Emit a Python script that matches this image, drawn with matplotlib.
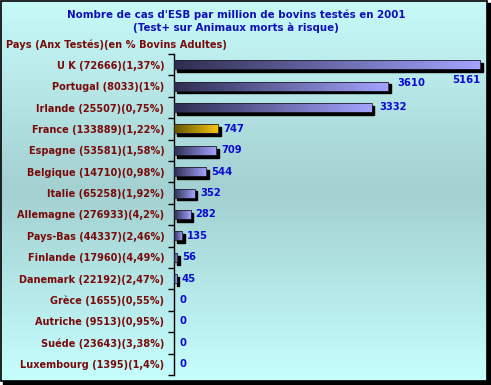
import numpy as np
import matplotlib
matplotlib.use("Agg")
import matplotlib.pyplot as plt
from matplotlib.patches import Rectangle
from matplotlib.transforms import ScaledTranslation

# data
pays = ["U K (72666)(1,37%)", "Portugal (8033)(1%)", "Irlande (25507)(0,75%)",
        "France (133889)(1,22%)", "Espagne (53581)(1,58%)", "Belgique (14710)(0,98%)",
        "Italie (65258)(1,92%)", "Allemagne (276933)(4,2%)", "Pays-Bas (44337)(2,46%)",
        "Finlande (17960)(4,49%)", "Danemark (22192)(2,47%)", "Grèce (1655)(0,55%)",
        "Autriche (9513)(0,95%)", "Suéde (23643)(3,38%)", "Luxembourg (1395)(1,4%)"]
cas = [5161, 3610, 3332, 747, 709, 544, 352, 282, 135, 56, 45, 0, 0, 0, 0]
highlight = "France (133889)(1,22%)"

title = "Nombre de cas d'ESB par million de bovins testés en 2001\n(Test+ sur Animaux morts à risque)"
ylabel = "Pays (Anx Testés)(en % Bovins Adultes)"

W, H = 491, 385
fig = plt.figure(figsize=(W / 100, H / 100), dpi=100)

# background panel with frame and drop shadow
bg = fig.add_axes([0, 0, 1, 1])
bg.set_xlim(0, W)
bg.set_ylim(H, 0)
bg.axis("off")
bg.add_patch(Rectangle((3, 3), W - 3, H - 3, color="black", zorder=0))
t = np.linspace(0, 1, 200)[:, None]
r = np.interp(t, [0, 0.5, 1], [200, 163, 198])
g = np.interp(t, [0, 0.5, 1], [250, 208, 254])
b = np.interp(t, [0, 0.5, 1], [250, 208, 254])
grad = np.dstack([r, g, b]) / 255.0
grad = np.repeat(grad, 2, axis=1)
bg.imshow(grad, extent=(0, W - 4, H - 4, 0), aspect="auto", zorder=1)
bg.add_patch(Rectangle((0.5, 0.5), W - 4.5, H - 4.5, fill=False, ec="black", lw=1.2, zorder=2))

fig.text(236 / W, 1 - 21 / H, title, ha="center", va="center", color="#1010b8",
         fontsize=7.4, fontweight="bold", linespacing=1.3)
fig.text(6 / W, 1 - 45 / H, ylabel, ha="left", va="center", color="#7a0a0a",
         fontsize=7.1, fontweight="bold")

ax = fig.add_axes([174 / W, 1 - 375 / H, 312 / W, 321 / H])
ax.patch.set_alpha(0)
ax.set_zorder(3)

n = len(pays)
y = np.arange(n)
h = 0.42
shadow = ax.transData + ScaledTranslation(0.025, -0.028, fig.dpi_scale_trans)
blue = np.dstack([np.linspace(0.18, 0.64, 64), np.linspace(0.18, 0.64, 64), np.linspace(0.32, 1.0, 64)])
gold = np.dstack([np.linspace(0.40, 0.96, 64), np.linspace(0.34, 0.78, 64), np.linspace(0.0, 0.05, 64)])

for i, (p, v) in enumerate(zip(pays, cas)):
    if v <= 0:
        continue
    ax.add_patch(Rectangle((0, i - h / 2), v, h, color="black", transform=shadow, zorder=2))
    img = gold if p == highlight else blue
    ax.imshow(img, extent=(0, v, i + h / 2, i - h / 2), aspect="auto", zorder=3,
              interpolation="bilinear")
    ax.add_patch(Rectangle((0, i - h / 2), v, h, fill=False, ec="#202030", lw=0.6, zorder=4))

# value labels
offsets = {0: (0, -15, "right"), 1: (9, 3, "left"), 2: (8, 1, "left")}
for i, v in enumerate(cas):
    dx, dy, ha = offsets.get(i, (5, 0, "left"))
    ax.annotate(str(v), (v, i), xytext=(dx, dy), textcoords="offset pixels",
                ha=ha, va="center", color="#0a0ad2", fontsize=7.2, fontweight="bold",
                annotation_clip=False)

ax.set_xlim(0, 5262)
ax.set_ylim(n - 0.5, -0.5)
ax.set_yticks(y)
ax.set_yticklabels(pays, color="#7a0a0a", fontsize=7, fontweight="bold")
ax.set_yticks(np.arange(n + 1) - 0.5, minor=True)
ax.tick_params(axis="y", which="major", length=0, pad=7)
ax.tick_params(axis="y", which="minor", length=4, width=1, direction="out")
ax.set_xticks([])
for s in ["top", "right", "bottom"]:
    ax.spines[s].set_visible(False)
ax.spines["left"].set_linewidth(1)

fig.savefig("out.png", dpi=100)
